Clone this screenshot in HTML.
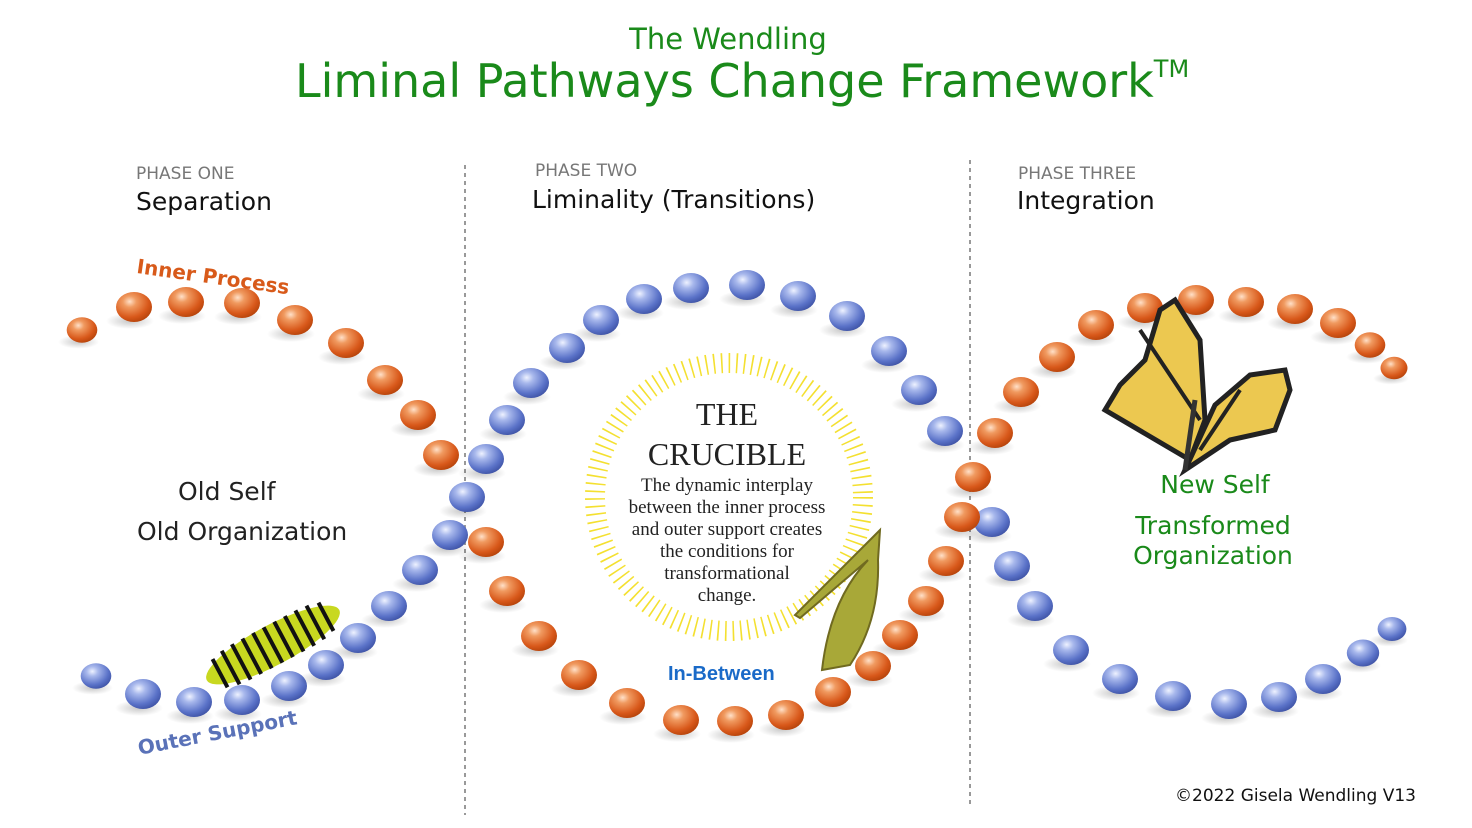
<!DOCTYPE html>
<html><head><meta charset="utf-8"><style>
html,body{margin:0;padding:0;background:#fff}
body{width:1472px;height:828px;position:relative;overflow:hidden;font-family:"DejaVu Sans","Liberation Sans",sans-serif}
.t{position:absolute;white-space:nowrap}
</style></head><body>
<svg width="1472" height="828" style="position:absolute;left:0;top:0">
<defs>
<radialGradient id="go" cx="0.38" cy="0.32" r="0.75">
<stop offset="0" stop-color="#ffe0c8"/><stop offset="0.25" stop-color="#f09a60"/><stop offset="0.7" stop-color="#d8581a"/><stop offset="1" stop-color="#b04008"/></radialGradient>
<radialGradient id="gb" cx="0.38" cy="0.32" r="0.75">
<stop offset="0" stop-color="#eef2ff"/><stop offset="0.25" stop-color="#a8b8ec"/><stop offset="0.7" stop-color="#5a72c8"/><stop offset="1" stop-color="#3a4ea0"/></radialGradient>
<radialGradient id="sh"><stop offset="0" stop-color="#000" stop-opacity="0.22"/><stop offset="1" stop-color="#000" stop-opacity="0"/></radialGradient>
<g id="o"><ellipse cx="-4" cy="14" rx="24" ry="8" fill="url(#sh)"/><ellipse rx="18" ry="15" fill="url(#go)"/></g>
<g id="b"><ellipse cx="-4" cy="14" rx="24" ry="8" fill="url(#sh)"/><ellipse rx="18" ry="15" fill="url(#gb)"/></g>
</defs>
<line x1="465" y1="165" x2="465" y2="815" stroke="#999" stroke-width="2" stroke-dasharray="4 4"/>
<line x1="970" y1="160" x2="970" y2="805" stroke="#999" stroke-width="2" stroke-dasharray="4 4"/>
<circle cx="729" cy="497" r="134" fill="none" stroke="#f4e030" stroke-width="20" stroke-dasharray="1.6 6"/>
<g>
<use href="#b" transform="translate(96,676) scale(.85)"/><use href="#b" transform="translate(143,694)"/><use href="#b" transform="translate(194,702)"/><use href="#b" transform="translate(242,700)"/><use href="#b" transform="translate(289,686)"/><use href="#b" transform="translate(326,665)"/><use href="#b" transform="translate(358,638)"/><use href="#b" transform="translate(389,606)"/><use href="#b" transform="translate(420,570)"/><use href="#b" transform="translate(450,535)"/><use href="#b" transform="translate(467,497)"/><use href="#b" transform="translate(486,459)"/><use href="#b" transform="translate(507,420)"/><use href="#b" transform="translate(531,383)"/><use href="#b" transform="translate(567,348)"/><use href="#b" transform="translate(601,320)"/><use href="#b" transform="translate(644,299)"/><use href="#b" transform="translate(691,288)"/><use href="#b" transform="translate(747,285)"/><use href="#b" transform="translate(798,296)"/><use href="#b" transform="translate(847,316)"/><use href="#b" transform="translate(889,351)"/><use href="#b" transform="translate(919,390)"/><use href="#b" transform="translate(945,431)"/><use href="#b" transform="translate(992,522)"/><use href="#b" transform="translate(1012,566)"/><use href="#b" transform="translate(1035,606)"/><use href="#b" transform="translate(1071,650)"/><use href="#b" transform="translate(1120,679)"/><use href="#b" transform="translate(1173,696)"/><use href="#b" transform="translate(1229,704)"/><use href="#b" transform="translate(1279,697)"/><use href="#b" transform="translate(1323,679)"/><use href="#b" transform="translate(1363,653) scale(.9)"/><use href="#b" transform="translate(1392,629) scale(.8)"/>
</g>
<g>
<use href="#o" transform="translate(82,330) scale(.85)"/><use href="#o" transform="translate(134,307)"/><use href="#o" transform="translate(186,302)"/><use href="#o" transform="translate(242,303)"/><use href="#o" transform="translate(295,320)"/><use href="#o" transform="translate(346,343)"/><use href="#o" transform="translate(385,380)"/><use href="#o" transform="translate(418,415)"/><use href="#o" transform="translate(441,455)"/><use href="#o" transform="translate(486,542)"/><use href="#o" transform="translate(507,591)"/><use href="#o" transform="translate(539,636)"/><use href="#o" transform="translate(579,675)"/><use href="#o" transform="translate(627,703)"/><use href="#o" transform="translate(681,720)"/><use href="#o" transform="translate(735,721)"/><use href="#o" transform="translate(786,715)"/><use href="#o" transform="translate(833,692)"/><use href="#o" transform="translate(873,666)"/><use href="#o" transform="translate(900,635)"/><use href="#o" transform="translate(926,601)"/><use href="#o" transform="translate(946,561)"/><use href="#o" transform="translate(962,517)"/><use href="#o" transform="translate(973,477)"/><use href="#o" transform="translate(995,433)"/><use href="#o" transform="translate(1021,392)"/><use href="#o" transform="translate(1057,357)"/><use href="#o" transform="translate(1096,325)"/><use href="#o" transform="translate(1145,308)"/><use href="#o" transform="translate(1196,300)"/><use href="#o" transform="translate(1246,302)"/><use href="#o" transform="translate(1295,309)"/><use href="#o" transform="translate(1338,323)"/><use href="#o" transform="translate(1370,345) scale(.85)"/><use href="#o" transform="translate(1394,368) scale(.75)"/>
</g>
<g transform="translate(273,645) rotate(-28)">
<ellipse rx="75" ry="20" fill="#c8d820"/>
<g stroke="#111" stroke-width="4">
<line x1="-60" y1="-16" x2="-60" y2="16"/><line x1="-48" y1="-19" x2="-48" y2="19"/><line x1="-36" y1="-20" x2="-36" y2="20"/><line x1="-24" y1="-20" x2="-24" y2="20"/><line x1="-12" y1="-20" x2="-12" y2="20"/><line x1="0" y1="-20" x2="0" y2="20"/><line x1="12" y1="-20" x2="12" y2="20"/><line x1="24" y1="-20" x2="24" y2="20"/><line x1="36" y1="-20" x2="36" y2="20"/><line x1="48" y1="-19" x2="48" y2="19"/><line x1="60" y1="-16" x2="60" y2="16"/></g>
</g>
<path d="M880,530 L795,615 L800,618 L868,560 Q830,600 822,670 L850,665 Q880,620 878,560 Z" fill="#a8a838" stroke="#706a20" stroke-width="2"/>
<g>
<path d="M1190,460 L1105,410 L1120,385 L1145,360 L1160,310 L1175,300 L1200,340 L1205,420 Z" fill="#ecc850" stroke="#222" stroke-width="5"/>
<path d="M1185,470 L1230,440 L1275,430 L1290,390 L1285,370 L1250,375 L1215,405 Z" fill="#ecc850" stroke="#222" stroke-width="5"/>
<line x1="1140" y1="330" x2="1200" y2="420" stroke="#222" stroke-width="4"/>
<line x1="1240" y1="390" x2="1200" y2="450" stroke="#222" stroke-width="4"/>
<line x1="1195" y1="400" x2="1185" y2="470" stroke="#333" stroke-width="5"/>
</g>
</svg>
<div class="t" style="left:0;width:1456px;text-align:center;top:22px;font-size:29px;color:#1a8a1a">The Wendling</div>
<div class="t" style="left:295px;top:54px;font-size:46px;color:#1a8a1a">Liminal Pathways Change Framework<span style="font-size:24px;vertical-align:20px">TM</span></div>
<div class="t" style="left:136px;top:164px;font-size:17px;color:#777">PHASE ONE</div>
<div class="t" style="left:136px;top:187px;font-size:25px;color:#111">Separation</div>
<div class="t" style="left:535px;top:161px;font-size:17px;color:#777">PHASE TWO</div>
<div class="t" style="left:532px;top:185px;font-size:25px;color:#111">Liminality (Transitions)</div>
<div class="t" style="left:1018px;top:164px;font-size:17px;color:#777">PHASE THREE</div>
<div class="t" style="left:1017px;top:186px;font-size:25px;color:#111">Integration</div>
<div class="t" style="left:137px;top:254px;font-size:20px;font-weight:bold;color:#d85a1a;transform:rotate(8deg);transform-origin:left center">Inner Process</div>
<div class="t" style="left:138px;top:736px;font-size:20px;font-weight:bold;color:#5a72b8;transform:rotate(-11deg);transform-origin:left center">Outer Support</div>
<div class="t" style="left:178px;top:477px;font-size:25px;color:#222">Old Self</div>
<div class="t" style="left:137px;top:517px;font-size:25px;color:#222">Old Organization</div>
<div class="t" style="left:1115px;width:200px;text-align:center;top:470px;font-size:25px;color:#1a8a1a">New Self</div>
<div class="t" style="left:1100px;width:226px;text-align:center;top:511px;font-size:25px;color:#1a8a1a;line-height:30px">Transformed<br>Organization</div>
<div class="t" style="left:0;width:1454px;text-align:center;top:394px;font-size:32px;color:#222;font-family:'Liberation Serif',serif;line-height:40px">THE<br>CRUCIBLE</div>
<div class="t" style="left:0;width:1454px;text-align:center;top:475px;font-size:19px;color:#222;font-family:'Liberation Serif',serif;line-height:22px">The dynamic interplay<br>between the inner process<br>and outer support creates<br>the conditions for<br>transformational<br>change.</div>
<div class="t" style="left:668px;top:663px;font-size:20px;font-weight:bold;color:#1a6ac8;font-family:'Liberation Sans',sans-serif">In-Between</div>
<div class="t" style="right:56px;top:786px;font-size:17px;color:#111">©2022 Gisela Wendling V13</div>
</body></html>
